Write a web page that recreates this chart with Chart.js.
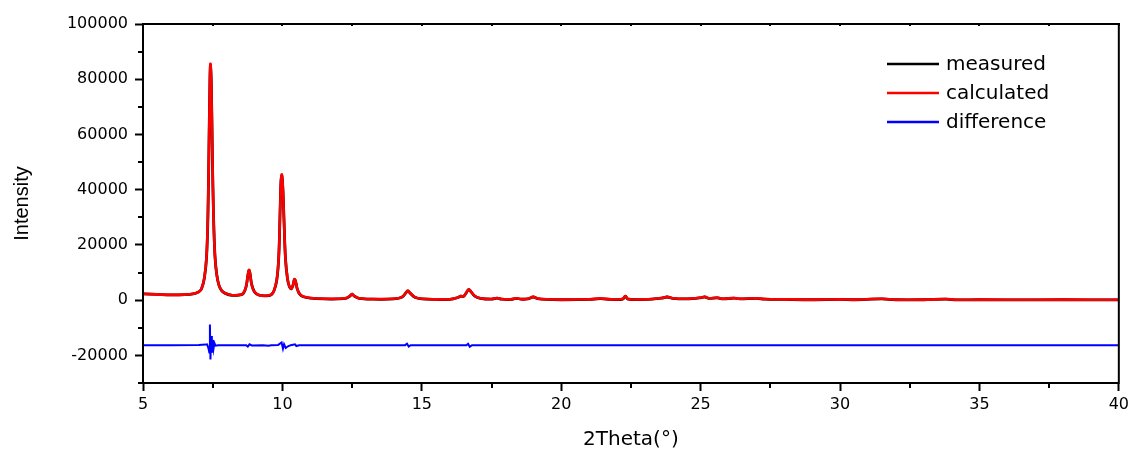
<!DOCTYPE html>
<html>
<head>
<meta charset="utf-8">
<script src="https://cdn.jsdelivr.net/npm/chart.js@4.4.1/dist/chart.umd.min.js"></script>
<style>
html,body{margin:0;padding:0;background:#fff;}
#wrap{width:1133px;height:456px;position:relative;}
</style>
</head>
<body>
<div id="wrap"><canvas id="c" width="1133" height="456"></canvas></div>
<script>
// 2Theta positions (degrees)
const theta = [5.0,5.5,6.0,6.5,6.8,7.0,7.1,7.2,7.28,7.33,7.37,7.40,7.42,7.45,7.49,7.53,7.58,7.64,7.72,7.82,7.95,8.2,8.5,
  8.6,8.7,8.76,8.8,8.84,8.9,9.0,9.15,9.4,9.6,9.7,9.8,9.87,9.92,9.95,9.98,10.02,10.06,10.11,10.18,10.25,10.32,10.38,10.43,10.47,10.53,10.62,10.75,
  11.0,11.5,12.0,12.3,12.45,12.5,12.58,12.75,13.2,14.0,14.3,14.45,14.5,14.58,14.75,15.0,15.5,16.0,16.3,16.4,16.5,16.6,16.68,16.75,16.9,17.1,
  17.5,17.7,17.85,18.2,18.4,18.55,18.8,19.0,19.15,19.5,20.0,21.0,21.4,21.8,22.2,22.3,22.4,23.0,23.6,23.8,24.0,24.5,25.0,25.15,25.3,25.6,25.8,
  26.2,26.4,27.0,27.3,28.0,29.0,30.0,30.5,31.5,32.0,33.0,33.8,34.2,35.0,36.0,37.0,38.0,39.0,40.0];
// calculated intensity
const calculated = [2300,2100,1900,2000,2300,3000,4200,8000,16000,32000,58000,80000,85600,78000,52000,30000,16000,9500,5500,3500,2500,1800,2000,
  2500,5000,9000,11000,9500,5500,3000,1900,1600,2000,3500,7500,16000,33000,43000,45500,40000,28000,15000,8000,5000,4200,5500,7600,7000,4200,2200,1300,
  800,500,500,800,1800,2200,1500,700,400,500,1200,3000,3400,2600,1100,500,300,300,1000,1500,1400,2800,3900,3300,1500,700,
  400,800,400,300,700,400,500,1200,600,300,200,300,600,300,400,1500,400,300,800,1200,700,500,900,1200,700,900,500,
  800,500,700,400,300,200,300,200,500,200,200,400,150,200,150,150,200,150,150];
// measured intensity
const measured = [2250,2080,1880,1980,2280,2980,4150,7900,15600,31000,59000,79000,85200,78500,51500,30500,16200,9600,5500,3450,2450,1750,1950,
  2450,4950,8900,10800,9600,5600,2950,1850,1550,1950,3450,7400,15800,33400,43300,45100,39800,28300,15100,7900,4900,4100,5400,7500,7000,4200,2150,1250,
  750,450,450,750,1700,2150,1450,650,350,450,1150,2900,3350,2550,1050,450,250,250,950,1450,1350,2750,3850,3250,1450,650,
  350,750,350,250,650,350,450,1150,550,250,150,250,550,250,350,1450,350,250,750,1150,650,450,850,1150,650,850,450,
  750,450,650,350,250,150,250,150,450,150,150,350,100,150,100,100,150,100,100];
// difference curve positions and values
const diffTheta = [5.0,6.0,7.0,7.25,7.3,7.35,7.38,7.40,7.42,7.44,7.47,7.50,7.53,7.56,7.60,7.7,8.0,8.7,8.76,8.82,8.9,9.3,9.5,9.6,9.85,9.93,9.97,10.02,10.06,10.12,10.2,10.3,10.45,10.5,10.6,11.0,12.0,
  14.4,14.47,14.53,14.6,15.5,16.6,16.66,16.72,16.8,18.0,20.0,22.0,24.0,26.0,28.0,30.0,32.0,34.0,36.0,38.0,40.0];
const difference = [-16300,-16300,-16200,-16100,-16000,-17500,-19000,-8800,-21500,-13000,-19000,-14500,-17500,-15500,-16500,-16300,-16300,-16300,-16800,-16000,-16400,-16300,-16500,-16300,-16200,-15600,-15300,-17600,-16000,-17300,-16700,-16300,-16000,-16600,-16300,-16300,-16300,
  -16300,-15800,-16800,-16300,-16300,-16300,-15800,-16900,-16300,-16300,-16300,-16300,-16300,-16300,-16300,-16300,-16300,-16300,-16300,-16300,-16300];
// axis ticks
const xTicks = [5,10,15,20,25,30,35,40];
const yTicks = [-20000,0,20000,40000,60000,80000,100000];
const xMinor = [7.5,12.5,17.5,22.5,27.5,32.5,37.5];
const yMinor = [-30000,-10000,10000,30000,50000,70000,90000];

const toPts = (xs, ys) => xs.map((x, i) => ({x: x, y: ys[i]}));

const framePlugin = {
  id: 'frame',
  afterDraw(chart) {
    const {ctx, chartArea: a, scales: {x, y}} = chart;
    ctx.save();
    ctx.strokeStyle = '#000';
    ctx.lineWidth = 2;
    ctx.lineCap = 'square';
    ctx.strokeRect(a.left, a.top, a.right - a.left, a.bottom - a.top);
    ctx.lineCap = 'butt';
    ctx.beginPath();
    xMinor.forEach(v => { const px = Math.round(x.getPixelForValue(v)); ctx.moveTo(px, a.bottom); ctx.lineTo(px, a.bottom + 5); });
    yMinor.forEach(v => { const py = Math.round(y.getPixelForValue(v)); ctx.moveTo(a.left, py); ctx.lineTo(a.left - 5, py); });
    xTicks.concat(xMinor).forEach(v => { const px = Math.round(x.getPixelForValue(v)); ctx.moveTo(px, a.top - 1); ctx.lineTo(px, a.top + 2); });
    ctx.stroke();
    // legend
    ctx.font = '20px "DejaVu Sans"';
    ctx.textBaseline = 'middle';
    ctx.fillStyle = '#000';
    [0, 1, 2].forEach(i => {
      const ds = chart.data.datasets[i];
      const yy = 64 + i * 29;
      ctx.strokeStyle = ds.borderColor;
      ctx.lineWidth = 2.5;
      ctx.beginPath(); ctx.moveTo(887, yy); ctx.lineTo(939, yy); ctx.stroke();
      ctx.fillText(ds.label, 946, yy + 1);
    });
    ctx.restore();
  }
};

new Chart(document.getElementById('c'), {
  type: 'line',
  data: {
    datasets: [
      {label: 'measured', data: toPts(theta, measured), borderColor: '#000000', borderWidth: 2.8, pointRadius: 0, tension: 0.35, order: 3},
      {label: 'calculated', data: toPts(theta, calculated), borderColor: '#ff0000', borderWidth: 2.6, pointRadius: 0, tension: 0.35, order: 2},
      {label: 'difference', data: toPts(diffTheta, difference), borderColor: '#0000ff', borderWidth: 2, pointRadius: 0, tension: 0, order: 1}
    ]
  },
  options: {
    responsive: false,
    animation: false,
    events: [],
    layout: {padding: {left: 0, top: 24, right: 12, bottom: 0}},
    plugins: {legend: {display: false}, tooltip: {enabled: false}},
    scales: {
      x: {
        type: 'linear', min: 5, max: 40,
        afterBuildTicks: s => { s.ticks = xTicks.map(v => ({value: v})); },
        afterFit: s => { s.height = 73; },
        grid: {drawOnChartArea: false, tickLength: 8, tickWidth: 2, color: '#000'},
        border: {display: true, color: '#000', width: 2},
        ticks: {color: '#000', font: {family: 'DejaVu Sans', size: 16}, padding: 4, maxRotation: 0},
        title: {display: true, text: '2Theta(°)', color: '#000', font: {family: 'DejaVu Sans', size: 20}, padding: {top: 8}}
      },
      y: {
        type: 'linear', min: -30000, max: 100000,
        afterBuildTicks: s => { s.ticks = yTicks.map(v => ({value: v})); },
        afterFit: s => { s.width = 143; },
        grid: {drawOnChartArea: false, tickLength: 8, tickWidth: 2, color: '#000'},
        border: {display: true, color: '#000', width: 2},
        ticks: {color: '#000', font: {family: 'DejaVu Sans', size: 16}, padding: 7, callback: v => String(v)},
        title: {display: true, text: 'Intensity', color: '#000', font: {family: 'Liberation Sans', size: 20}, padding: 10}
      }
    }
  },
  plugins: [framePlugin]
});
</script>
</body>
</html>
